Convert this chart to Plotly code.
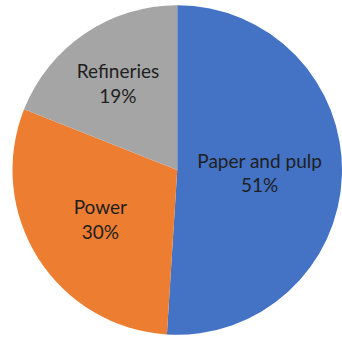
import plotly.graph_objects as go

labels = ["Paper and pulp", "Power", "Refineries"]
values = [51, 30, 19]
colors = ["#4472C4", "#ED7D31", "#A5A5A5"]

fig = go.Figure(
    go.Pie(
        labels=labels,
        values=values,
        sort=False,
        direction="clockwise",
        rotation=0,
        marker=dict(colors=colors, line=dict(width=0)),
        texttemplate="%{label}<br>%{percent:.0%}",
        textposition="inside",
        insidetextorientation="horizontal",
        textfont=dict(family="Lato", size=19, color="#1f1f1f"),
        hoverinfo="label+percent",
        domain=dict(x=[12.5 / 342, 1.0], y=[3 / 340, 337 / 340]),
    )
)

fig.update_layout(
    width=342,
    height=340,
    margin=dict(l=0, r=0, t=0, b=0),
    paper_bgcolor="white",
    showlegend=False,
)

fig.write_html("out.html")
